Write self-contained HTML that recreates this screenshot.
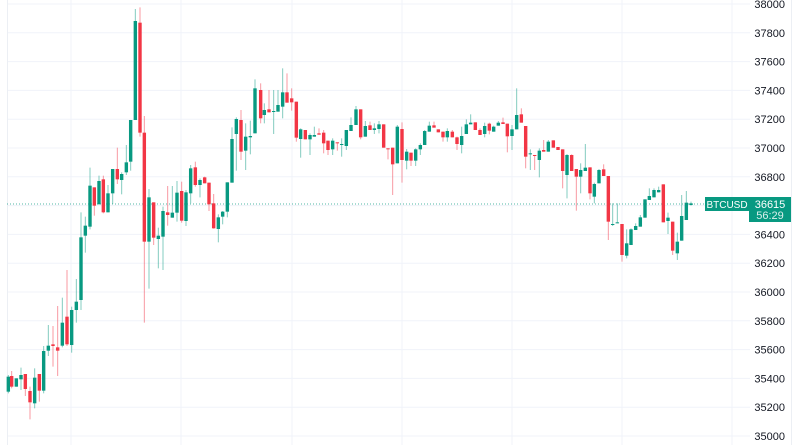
<!DOCTYPE html>
<html><head><meta charset="utf-8"><style>
html,body{margin:0;padding:0;background:#fff;width:800px;height:445px;overflow:hidden}
svg{display:block}
text{font-family:"Liberation Sans",sans-serif}
</style></head><body>
<svg id="c" width="800" height="445" xmlns="http://www.w3.org/2000/svg"></svg>
<script>
var s=document.getElementById('c'),h='';
for(var i=0;i<=15;i++){var y=4+i*28.8;h+='<line x1="7" x2="750" y1="'+y+'" y2="'+y+'" stroke="#f0f3fa" stroke-width="1"/>';
h+='<text x="785" y="'+(y+4)+'" font-size="11" fill="#131722" text-anchor="end">'+(38000-i*200)+'</text>';}
[71,181,292,402,512,622,732].forEach(function(x){h+='<line x1="'+x+'" x2="'+x+'" y1="0" y2="445" stroke="#f0f3fa"/>';});
h+='<line x1="7.5" x2="7.5" y1="0" y2="445" stroke="#eceff4"/>';
h+='<line x1="791.5" x2="791.5" y1="0" y2="445" stroke="#eceff4"/>';
h+='<line x1="7" x2="705" y1="204" y2="204" stroke="#089981" stroke-width="1" stroke-dasharray="1,2" opacity="0.7"/>';
var A=[[25,'g',1130,1175,1125,1180],[35,'r',1128,1160,1113,1165],[49,'g',1135,1160],[63,'g',1125,1138,1103,1170],[76,'r',1122,1167,1122,1188],[90,'r',1173,1207,1160,1258],[104,'g',1133,1210,1105,1225],[118,'r',1122,1172,1122,1205],[131,'g',1053,1172,1038,1180],[145,'g',1037,1052,975,1068],[159,'r',1033,1038,978,1100],[173,'r',1042,1052,918,1128],[187,'g',968,1037,893,1042],[201,'r',950,1033,810,1038],[215,'g',930,1035,920,1058],[229,'g',905,930,837,968],[243,'g',712,900,637,930],[256,'g',677,707,650,758],[270,'g',557,680,503,688],[283,'r',562,617,562,647],[297,'g',543,613,527,613],[310,'r',538,637,527,640],[324,'g',580,637,555,637],[338,'g',507,580,507,612],[352,'r',507,538,443,552],[365,'g',522,540,517,583],[379,'g',487,517,435,525],[392,'g',360,485,360,512],[406,'g',63,360,27,360],[420,'r',68,398,22,410],[433,'r',398,725,348,968],[447,'g',592,725,567,866],[461,'r',607,713,607,735],[475,'g',707,717,683,805],[489,'g',633,710,620,810],[503,'r',637,645,558,677],[517,'g',638,653,558,653],[531,'g',578,638,543,665],[545,'r',573,662,545,668],[558,'g',577,663,570,678],[572,'g',505,580,495,610],[586,'r',502,555,485,560],[600,'g',540,555,535,592],[614,'r',532,550,530,550],[627,'r',548,613,548,633],[641,'r',610,685,582,686],[655,'g',652,687,643,727],[668,'g',635,650,633,673],[682,'g',547,635,547,652],[696,'g',417,548,382,548],[709,'g',357,402,352,512],[723,'r',360,455,330,480],[737,'g',410,452,370,510],[751,'g',408,412,362,463],[765,'g',265,400,238,400]];
var B=[[2,'r',90,175,70,190],[13,'g',150,165,130,190],[27,'r',148,157,90,157],[41,'g',153,156,90,222],[54,'g',135,155,90,155],[68,'g',97,140,25,175],[81,'r',97,128,40,128],[95,'r',115,127,85,152],[109,'r',125,233,125,245],[122,'g',208,237,205,293],[136,'r',210,238,210,238],[150,'g',225,238,220,285],[163,'g',225,230,200,230],[177,'r',220,224,205,224],[191,'r',218,250,210,280],[204,'r',242,270,242,285],[218,'g',242,268,235,285],[232,'r',247,250,247,272],[245,'g',252,255,235,290],[259,'g',210,258,210,270],[273,'g',195,213,172,213],[288,'g',148,195,138,195],[302,'r',148,232,148,238],[316,'g',198,230,183,230],[330,'r',196,210,185,210],[343,'g',205,210,190,222],[357,'g',193,207,183,220],[371,'r',193,263,193,263],[384,'r',265,268,265,298],[398,'r',263,313,263,405],[412,'g',200,310,195,310],[426,'r',207,300,187,368],[440,'g',275,302,267,328],[453,'r',278,302,278,318],[467,'g',268,302,265,318],[481,'g',255,268,250,285],[494,'g',213,255,210,255],[508,'g',197,215,185,215],[522,'r',196,203,185,203],[535,'r',208,217,208,217],[549,'r',215,232,215,245],[562,'g',213,232,205,245],[577,'r',215,232,210,232],[591,'r',232,252,230,270],[605,'g',228,255,200,280],[619,'g',193,222,178,222],[632,'g',188,193,163,193],[646,'r',187,210,187,210],[660,'r',210,225,205,225],[674,'g',198,222,188,232],[688,'r',191,212,188,223],[701,'g',200,215,197,215],[715,'g',188,197,183,197],[729,'r',187,192,173,192],[742,'r',191,229,191,277],[756,'g',208,228,195,270],[770,'g',165,208,85,208],[784,'r',163,188,145,188],[797,'r',198,290,198,325],[811,'g',280,283,268,330],[824,'r',285,288,285,330],[838,'g',272,300,265,352],[851,'r',270,275,240,275],[865,'g',245,275,240,275],[880,'r',241,263,241,263],[894,'r',261,270,261,270],[908,'r',268,333,268,385],[921,'g',285,345,282,415],[935,'r',285,333,283,333],[949,'r',327,350,327,452],[962,'g',330,350,310,400],[976,'g',323,333,252,333],[990,'r',322,400,322,418],[1003,'g',372,410,368,430],[1017,'g',330,370,327,370],[1031,'r',328,348,313,348],[1045,'r',348,485,348,540],[1058,'g',492,495,430,498],[1072,'g',487,490,430,490],[1086,'r',492,585,492,605],[1100,'g',550,587,508,595],[1113,'g',508,555,505,555],[1127,'g',498,510,490,510],[1141,'g',472,500,465,500],[1155,'g',418,473,418,473],[1168,'g',408,420,385,420],[1182,'g',390,412,385,412],[1196,'g',390,397,380,397],[1210,'r',373,487,373,487],[1224,'g',473,483,458,522],[1238,'r',485,572,485,585],[1252,'g',545,580,518,600],[1265,'g',468,542,405,542],[1279,'g',428,480,393,480],[1293,'g',430,435,425,437]];
function draw(c,ox,oy){var x=ox+c[0]/3,bt=oy+c[2]/3,bb=oy+c[3]/3,wt=oy+(c[4]===undefined?c[2]:c[4])/3,wb=oy+(c[5]===undefined?c[3]:c[5])/3;
var col=c[1]=='g'?'#089981':'#F23645';
h+='<line x1="'+x+'" x2="'+x+'" y1="'+wt+'" y2="'+wb+'" stroke="'+col+'" stroke-opacity="0.5" stroke-width="1"/>';
h+='<rect x="'+(x-1.7)+'" y="'+bt+'" width="3.4" height="'+Math.max(1,bb-bt)+'" fill="'+col+'"/>';}
A.forEach(function(c){draw(c,0,0)});
B.forEach(function(c){draw(c,260,60)});
h+='<rect x="705" y="197" width="44" height="14" fill="#089981"/><text x="727" y="208" font-size="10" fill="#fff" text-anchor="middle">BTCUSD</text>';
h+='<rect x="749" y="197" width="42" height="25" fill="#089981"/><text x="770" y="208" font-size="11" fill="#fff" text-anchor="middle">36615</text><text x="770" y="219" font-size="11" fill="#fff" text-anchor="middle" opacity="0.85">56:29</text>';
s.innerHTML=h;
</script>
</body></html>
